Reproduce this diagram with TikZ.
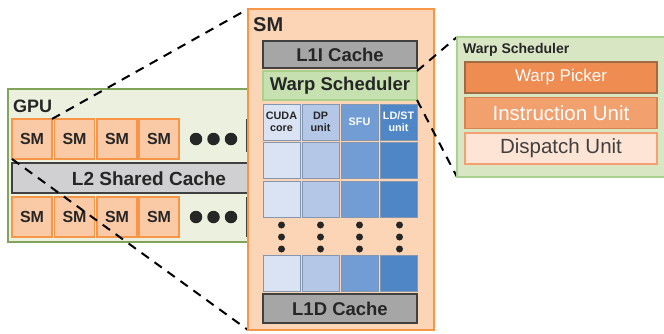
\documentclass[tikz,border=0pt]{standalone}
\usepackage{fontspec}
\setmainfont{Liberation Sans}
\definecolor{txt}{HTML}{262626}
\definecolor{gpufill}{HTML}{EBF1DE}
\definecolor{gpuline}{HTML}{82A45A}
\definecolor{smfill}{HTML}{FAC9A6}
\definecolor{smbigfill}{HTML}{FCD4B6}
\definecolor{orangeline}{HTML}{F79646}
\definecolor{cachegray}{HTML}{A6A6A6}
\definecolor{l2gray}{HTML}{D0CFD2}
\definecolor{darkline}{HTML}{404040}
\definecolor{wsfill}{HTML}{C6E0B0}
\definecolor{wsline}{HTML}{A9D18E}
\definecolor{wsdfill}{HTML}{D9E6C4}
\definecolor{cudac}{HTML}{DAE3F3}
\definecolor{dpc}{HTML}{B4C7E7}
\definecolor{sfuc}{HTML}{729DD4}
\definecolor{ldstc}{HTML}{4F86C6}
\definecolor{cellline}{HTML}{8497B0}
\definecolor{pickfill}{HTML}{EE8C52}
\definecolor{pickline}{HTML}{A06A45}
\definecolor{instfill}{HTML}{F2A06E}
\definecolor{instline}{HTML}{D9834E}
\definecolor{dispfill}{HTML}{FDE4D4}
\definecolor{displine}{HTML}{F4A070}
\tikzset{
  box/.style={draw, anchor=north west, inner sep=0pt, outer sep=0pt},
  smbox/.style={box, fill=smfill, draw=orangeline, line width=1.5pt,
    minimum width=40pt, minimum height=40pt, font=\bfseries\fontsize{16}{16}\selectfont, text=txt},
  cache/.style={box, fill=cachegray, draw=darkline, line width=1.5pt,
    font=\bfseries\fontsize{18.5}{18.5}\selectfont, text=txt},
  cell/.style={box, draw=cellline, line width=1pt, minimum width=37pt, minimum height=36pt},
  hdr/.style={cell, align=center, font=\bfseries\fontsize{10.8}{12}\selectfont},
  bigdot/.style={circle, fill=txt, inner sep=0pt, minimum size=12.5pt},
  smalldot/.style={circle, fill=txt, inner sep=0pt, minimum size=7pt},
  zoomline/.style={draw=black, line width=2pt, dash pattern=on 9pt off 7pt},
  sub/.style={box, line width=1.5pt, minimum width=192pt, minimum height=31pt}
}
\begin{document}
\begin{tikzpicture}[x=1pt,y=-1pt]
\useasboundingbox (0,0) rectangle (664,333);

% GPU overview
\node[box, fill=gpufill, draw=gpuline, line width=1.5pt, minimum width=250pt, minimum height=153pt] (gpu) at (8,89) {};
\node[anchor=base west, inner sep=0pt, font=\bfseries\fontsize{18}{18}\selectfont, text=txt] (gpulabel) at (13,112) {GPU};
\node[smbox] (sma) at (12,119) {SM};
\node[smbox] (smb) at (54.5,119) {SM};
\node[smbox] (smc) at (97,119) {SM};
\node[smbox] (smd) at (139,119) {SM};
\node[bigdot] (da1) at (196,139) {};
\node[bigdot] (da2) at (213.5,139) {};
\node[bigdot] (da3) at (231,139) {};
\draw[darkline, line width=2pt] (247,119) coordinate (hida1) -- (247,152) coordinate (hida2);
\node[box, fill=l2gray, draw=darkline, line width=1.5pt, minimum width=250pt, minimum height=30pt] (l2) at (12,163) {};
\node[font=\bfseries\fontsize{19}{19}\selectfont, text=txt] (l2label) at (149,179) {L2 Shared Cache};
\node[smbox] (sme) at (12,197) {SM};
\node[smbox] (smf) at (54.5,197) {SM};
\node[smbox] (smg) at (97,197) {SM};
\node[smbox] (smh) at (139,197) {SM};
\node[bigdot] (db1) at (196,217) {};
\node[bigdot] (db2) at (213.5,217) {};
\node[bigdot] (db3) at (231,217) {};
\draw[darkline, line width=2pt] (247,197) coordinate (hidb1) -- (247,237) coordinate (hidb2);

% SM detail
\node[box, fill=smbigfill, draw=orangeline, line width=1.5pt, minimum width=186pt, minimum height=321pt] (smbig) at (248,9) {};
\draw[zoomline] (sma.north east) -- (smbig.north west);
\draw[zoomline] (sma.south west) -- (smbig.south west);
\node[box, fill=smbigfill, draw=orangeline, line width=1.5pt, minimum width=186pt, minimum height=321pt] at (248,9) {};
\node[anchor=base west, inner sep=0pt, font=\bfseries\fontsize{20}{20}\selectfont, text=txt] (smlabel) at (253,31) {SM};
\node[cache, minimum width=154pt, minimum height=27pt] (l1i) at (263,41) {L1I Cache};
\node[box, fill=wsfill, draw=wsline, line width=1.5pt, minimum width=154pt, minimum height=29pt,
  font=\bfseries\fontsize{18.5}{18.5}\selectfont, text=txt] (ws) at (263,71) {Warp Scheduler};

\node[hdr, fill=cudac, text=txt] (h1) at (263,104) {CUDA\\core};
\node[hdr, fill=dpc, text=txt] (h2) at (302,104) {DP\\unit};
\node[hdr, fill=sfuc, text=white] (h3) at (341,104) {SFU};
\node[hdr, fill=ldstc, text=white] (h4) at (380,104) {LD/ST\\unit};
\foreach \r/\y in {a/142.5, b/181, c/255.5} {
  \node[cell, fill=cudac] (c1\r) at (263,\y) {};
  \node[cell, fill=dpc] (c2\r) at (302,\y) {};
  \node[cell, fill=sfuc] (c3\r) at (341,\y) {};
  \node[cell, fill=ldstc] (c4\r) at (380,\y) {};
}
\foreach \i/\x in {1/281.5, 2/320.5, 3/359.5, 4/399.5} {
  \node[smalldot] (v\i a) at (\x,225) {};
  \node[smalldot] (v\i b) at (\x,237) {};
  \node[smalldot] (v\i c) at (\x,249) {};
}
\node[cache, minimum width=154pt, minimum height=29pt] (l1d) at (263,294) {L1D Cache};

% Warp scheduler detail
\draw[zoomline] (ws.north east) -- (457,37) coordinate (wsdnw);
\draw[zoomline] (ws.south east) -- (457,177) coordinate (wsdsw);
\node[box, fill=wsdfill, draw=wsline, line width=1.5pt, minimum width=214pt, minimum height=140pt] (wsd) at (457,37) {};
\node[anchor=base west, inner sep=0pt, font=\bfseries\fontsize{14}{14}\selectfont, text=txt] (wsdlabel) at (463,53) {Warp Scheduler};
\node[sub, fill=pickfill, draw=pickline, text=white, font=\fontsize{17}{17}\selectfont] (pick) at (465,62) {Warp Picker};
\node[sub, fill=instfill, draw=instline, text=white, font=\fontsize{20.5}{20.5}\selectfont] (inst) at (465,97.5) {Instruction Unit};
\node[sub, fill=dispfill, draw=displine, text=darkline, font=\fontsize{20.5}{20.5}\selectfont] (disp) at (465,133) {Dispatch Unit};
\end{tikzpicture}
\end{document}
